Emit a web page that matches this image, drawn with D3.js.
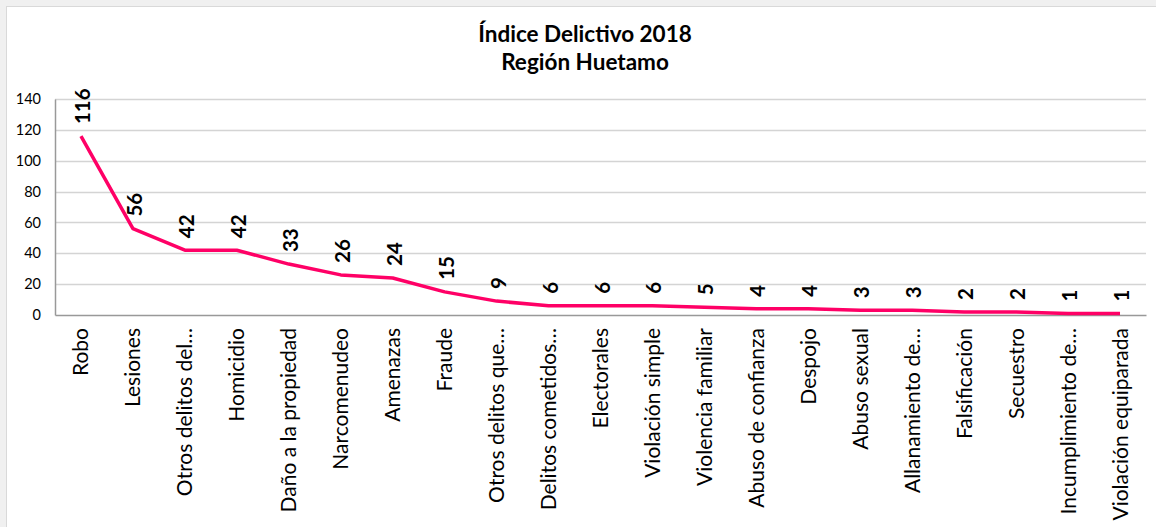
<!DOCTYPE html>
<html>
<head>
<meta charset="utf-8">
<script src="https://cdn.jsdelivr.net/npm/d3@7"></script>
<style>
  html, body { margin: 0; padding: 0; background: #f0f0f0; }
  svg { display: block; }
  text { font-family: Lato, "Noto Sans", sans-serif; fill: #000; }
</style>
</head>
<body>
<div id="chart"></div>
<script>
var categories = ["Robo", "Lesiones", "Otros delitos del…", "Homicidio", "Daño a la propiedad",
  "Narcomenudeo", "Amenazas", "Fraude", "Otros delitos que…", "Delitos cometidos…",
  "Electorales", "Violación simple", "Violencia familiar", "Abuso de confianza", "Despojo",
  "Abuso sexual", "Allanamiento de…", "Falsificación", "Secuestro", "Incumplimiento de…",
  "Violación equiparada"];
var values = [116, 56, 42, 42, 33, 26, 24, 15, 9, 6, 6, 6, 5, 4, 4, 3, 3, 2, 2, 1, 1];
var yTicks = [0, 20, 40, 60, 80, 100, 120, 140];
var titleLines = ["Índice Delictivo 2018", "Región Huetamo"];

var W = 1156, H = 527;
var plot = {left: 55, right: 1146, top: 99, bottom: 315};

var svg = d3.select("#chart").append("svg").attr("width", W).attr("height", H);

// chart area frame
svg.append("rect").attr("x", 6.5).attr("y", 6.5).attr("width", W).attr("height", H)
  .attr("fill", "#fff").attr("stroke", "#d9d9d9");

var x = d3.scaleBand().domain(categories).range([plot.left, plot.right]).padding(0);
var y = d3.scaleLinear().domain([0, 140]).range([plot.bottom, plot.top]);

// gridlines
svg.append("g").selectAll("line").data(yTicks.slice(1)).enter().append("line")
  .attr("x1", plot.left).attr("x2", plot.right)
  .attr("y1", function(d){ return Math.round(y(d)) + 0.5; })
  .attr("y2", function(d){ return Math.round(y(d)) + 0.5; })
  .attr("stroke", "#d4d4d4").attr("stroke-width", 1.5);

// y axis
var yAxis = svg.append("g").attr("transform", "translate(" + plot.left + ",0)")
  .call(d3.axisLeft(y).tickValues(yTicks).tickSize(0).tickPadding(14));
yAxis.select(".domain").attr("stroke", "#999").attr("stroke-width", 1.5);
yAxis.selectAll("text").style("font-size", "14.5px").style("font-family", "Lato, sans-serif");

// x axis
var xAxis = svg.append("g").attr("transform", "translate(0," + plot.bottom + ")")
  .call(d3.axisBottom(x).tickSize(0).tickPadding(0));
xAxis.select(".domain").attr("stroke", "#999").attr("stroke-width", 1.5);
xAxis.selectAll("text")
  .style("font-size", "21px").style("font-family", "Lato, sans-serif")
  .attr("text-anchor", "end").attr("dy", null).attr("y", 0)
  .attr("transform", "translate(-1,13) rotate(-90)")
  .attr("dominant-baseline", "central");

// line
var line = d3.line()
  .x(function(d, i){ return x(categories[i]) + x.bandwidth() / 2; })
  .y(function(d){ return y(d); });

svg.append("path").datum(values)
  .attr("d", line).attr("fill", "none")
  .attr("stroke", "#ff0066").attr("stroke-width", 3.5)
  .attr("stroke-linejoin", "round");

// data labels
svg.append("g").selectAll("text").data(values).enter().append("text")
  .attr("transform", function(d, i){
    return "translate(" + (x(categories[i]) + x.bandwidth() / 2 + 1) + "," + (y(d) - 12) + ") rotate(-90)";
  })
  .attr("text-anchor", "start").attr("dominant-baseline", "central")
  .style("font-size", "20.5px").style("font-weight", "bold")
  .text(function(d){ return d; });

// title
svg.append("g").selectAll("text").data(titleLines).enter().append("text")
  .attr("x", 585).attr("y", function(d, i){ return 42 + i * 28; })
  .attr("text-anchor", "middle")
  .style("font-size", "22.5px").style("font-weight", "bold")
  .text(function(d){ return d; });
</script>
</body>
</html>
